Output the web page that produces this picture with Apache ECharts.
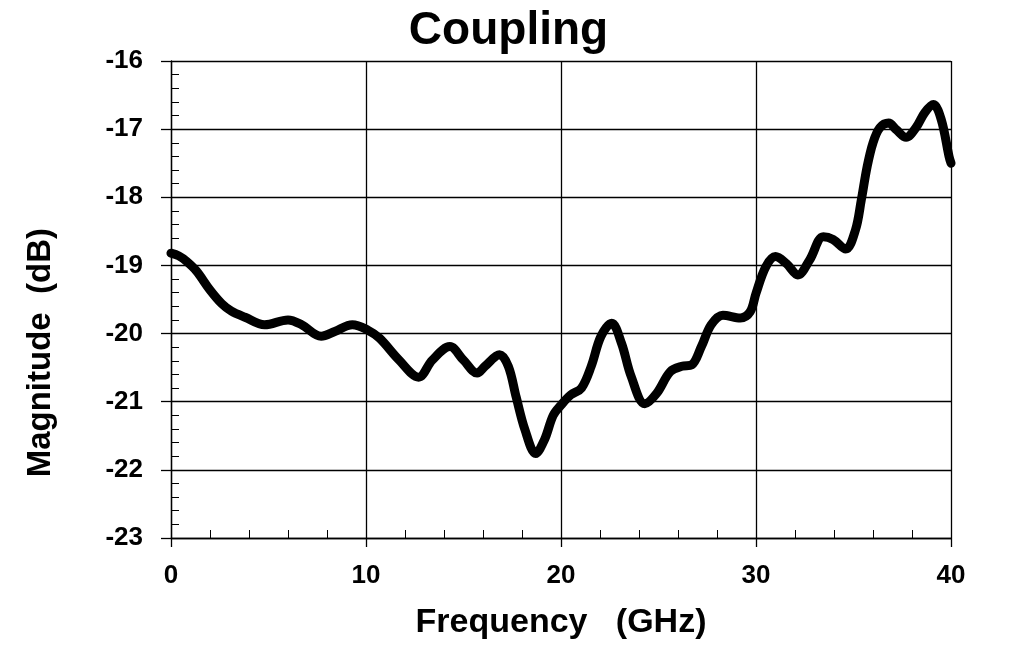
<!DOCTYPE html>
<html><head><meta charset="utf-8">
<script src="https://cdn.jsdelivr.net/npm/echarts@6/dist/echarts.min.js"></script>
<style>html,body{margin:0;padding:0;background:#fff}#c{width:1017px;height:664px}</style>
</head><body><div id="c"></div>
<script>
var freqGHz = [0,0.4,0.8,1.3,2.0,2.6,3.1,3.8,4.8,6.0,6.7,7.7,8.4,9.3,10.1,10.7,11.7,12.7,13.4,14.3,15.0,15.7,16.1,16.85,17.3,17.7,18.15,18.7,19.15,19.6,20.0,20.5,21.05,21.55,22.05,22.6,23.1,23.6,24.3,24.9,25.6,26.2,26.7,27.2,27.7,28.3,29.2,29.7,30.0,30.5,31.0,31.55,32.15,32.75,33.45,33.95,34.6,35.1,35.4,35.7,36.0,36.35,36.8,37.2,37.7,38.2,38.65,39.1,39.5,39.9,40.0];
var magnitudeDB = [-18.82,-18.86,-18.94,-19.08,-19.36,-19.56,-19.67,-19.76,-19.87,-19.80,-19.87,-20.04,-19.97,-19.87,-19.95,-20.07,-20.39,-20.64,-20.39,-20.19,-20.39,-20.58,-20.48,-20.31,-20.48,-20.93,-21.41,-21.76,-21.56,-21.2,-21.05,-20.90,-20.80,-20.48,-20.04,-19.85,-20.14,-20.63,-21.03,-20.88,-20.56,-20.48,-20.46,-20.19,-19.87,-19.73,-19.77,-19.68,-19.41,-19.02,-18.87,-18.97,-19.14,-18.92,-18.58,-18.62,-18.76,-18.48,-18.04,-17.55,-17.20,-16.98,-16.91,-17.01,-17.12,-16.98,-16.76,-16.64,-16.86,-17.40,-17.50];
var titleText = "Coupling";
var xTitle = "Frequency   (GHz)";
var yTitle = "Magnitude  (dB)";

var FONT = "'Liberation Sans', Arial, sans-serif";
var pts = freqGHz.map(function(x,i){return [x, magnitudeDB[i]];});
var chart = echarts.init(document.getElementById('c'));
chart.setOption({
  animation:false,
  backgroundColor:'#fff',
  title:{text:titleText,left:'center',top:3,textStyle:{fontFamily:FONT,fontWeight:'bold',fontSize:46,color:'#000'}},
  graphic:[{type:'text',left:24,top:228,rotation:Math.PI/2,
    style:{text:yTitle,font:'bold 33px '+FONT,fill:'#000'}}],
  grid:{left:171,right:66,top:61,bottom:126,containLabel:false},
  xAxis:[{
    type:'value',min:0,max:40,interval:10,
    name:xTitle,nameLocation:'middle',nameGap:68,
    nameTextStyle:{fontFamily:FONT,fontWeight:'bold',fontSize:34,color:'#000'},
    axisLine:{onZero:false,lineStyle:{color:'#000',width:1.3}},
    axisTick:{show:true,inside:false,length:9,lineStyle:{color:'#000',width:1.3}},
    axisLabel:{margin:25,fontFamily:FONT,fontWeight:'bold',fontSize:26,color:'#000'},
    splitLine:{show:true,lineStyle:{color:'#000',width:1.3}}
  },{
    type:'value',min:0,max:40,interval:2,position:'bottom',
    axisLine:{show:false},
    axisTick:{show:true,inside:true,length:8,lineStyle:{color:'#000',width:1}},
    axisLabel:{show:false},splitLine:{show:false}
  }],
  yAxis:[{
    type:'value',min:-23,max:-16,interval:1,
    axisLine:{show:true,onZero:false,lineStyle:{color:'#000',width:1.3}},
    axisTick:{show:true,inside:false,length:10,lineStyle:{color:'#000',width:1.3}},
    axisLabel:{margin:28,fontFamily:FONT,fontWeight:'bold',fontSize:26,color:'#000'},
    splitLine:{show:true,lineStyle:{color:'#000',width:1.3}}
  },{
    type:'value',min:-23,max:-16,interval:0.2,position:'left',
    axisLine:{show:false},
    axisTick:{show:true,inside:true,length:8,lineStyle:{color:'#000',width:1}},
    axisLabel:{show:false},splitLine:{show:false}
  }],
  series:[{
    type:'line',xAxisIndex:0,yAxisIndex:0,data:pts,
    showSymbol:false,symbol:'none',smooth:0.35,
    lineStyle:{color:'#000',width:9,cap:'round',join:'round'},
    clip:true,z:5
  }]
});
</script></body></html>
